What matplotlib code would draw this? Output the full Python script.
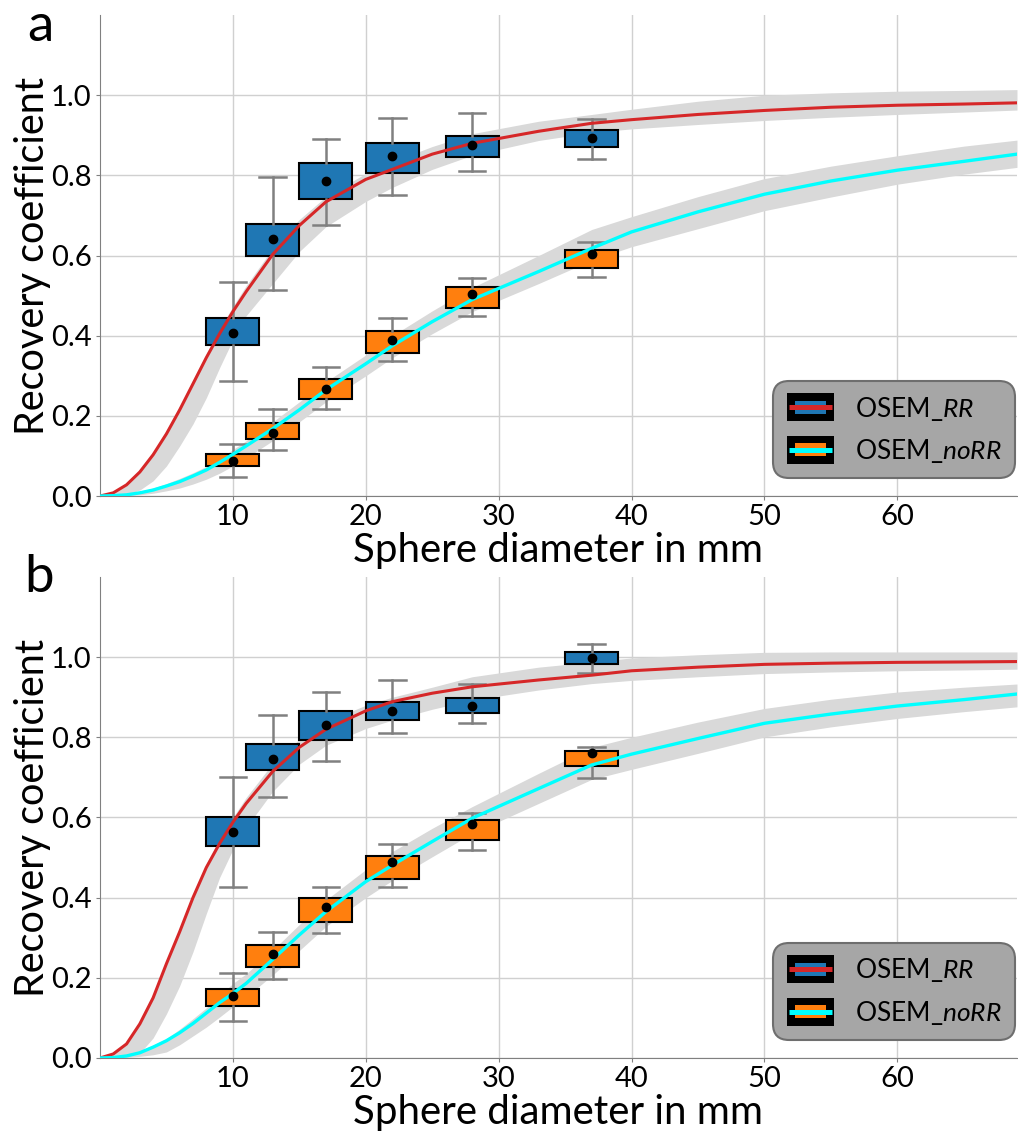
import numpy as np
import matplotlib
matplotlib.use("Agg")
import matplotlib.pyplot as plt
from matplotlib.patches import Rectangle
from matplotlib.lines import Line2D
from matplotlib.legend_handler import HandlerBase

plt.rcParams['font.family'] = ['Lato', 'DejaVu Sans']
plt.rcParams['mathtext.fontset'] = 'custom'
plt.rcParams['mathtext.rm'] = 'Lato'
plt.rcParams['mathtext.it'] = 'Lato:italic'

# sphere diameters of the phantom (mm)
positions = [10, 13, 17, 22, 28, 37]

# panel a, OSEM_RR boxes
a_rr_whislo = [0.287, 0.514, 0.677, 0.750, 0.810, 0.840]
a_rr_q1 = [0.378, 0.599, 0.742, 0.805, 0.847, 0.870]
a_rr_mean = [0.408, 0.641, 0.786, 0.848, 0.877, 0.893]
a_rr_q3 = [0.443, 0.678, 0.832, 0.882, 0.899, 0.913]
a_rr_whishi = [0.534, 0.796, 0.890, 0.943, 0.955, 0.940]

# panel a, OSEM_noRR boxes
a_no_whislo = [0.047, 0.116, 0.217, 0.337, 0.450, 0.547]
a_no_q1 = [0.076, 0.142, 0.242, 0.358, 0.470, 0.569]
a_no_mean = [0.087, 0.158, 0.266, 0.389, 0.505, 0.604]
a_no_q3 = [0.105, 0.183, 0.292, 0.411, 0.522, 0.613]
a_no_whishi = [0.131, 0.216, 0.321, 0.443, 0.545, 0.633]

# panel b, OSEM_RR boxes
b_rr_whislo = [0.427, 0.652, 0.741, 0.810, 0.835, 0.961]
b_rr_q1 = [0.530, 0.719, 0.793, 0.842, 0.860, 0.983]
b_rr_mean = [0.564, 0.746, 0.831, 0.865, 0.877, 0.997]
b_rr_q3 = [0.602, 0.783, 0.866, 0.887, 0.899, 1.012]
b_rr_whishi = [0.700, 0.856, 0.913, 0.944, 0.933, 1.034]

# panel b, OSEM_noRR boxes
b_no_whislo = [0.092, 0.196, 0.313, 0.426, 0.518, 0.699]
b_no_q1 = [0.129, 0.228, 0.338, 0.447, 0.544, 0.728]
b_no_mean = [0.154, 0.259, 0.377, 0.490, 0.584, 0.761]
b_no_q3 = [0.173, 0.282, 0.399, 0.505, 0.594, 0.767]
b_no_whishi = [0.212, 0.314, 0.427, 0.534, 0.611, 0.776]

# fitted recovery curves and their bands
d = [0, 1, 2, 3, 4, 5, 6, 7, 8, 9, 10, 11, 13, 15, 17, 20, 22, 25, 28, 33, 37, 40, 45, 50, 55, 60, 65, 69]

a_red = [0, .008, .028, .060, .103, .155, .215, .280, .345, .405, .460, .510, .603, .675, .734,
         .790, .815, .853, .880, .910, .930, .939, .952, .962, .970, .975, .978, .981]
a_red_lo = [0, .001, .004, .015, .038, .075, .125, .180, .245, .320, .390, .450, .530, .610, .672,
            .735, .770, .815, .850, .887, .907, .916, .927, .937, .945, .952, .958, .963]
a_red_hi = [0, .010, .032, .066, .110, .163, .225, .290, .356, .417, .473, .525, .618, .690, .747,
            .805, .834, .872, .904, .935, .952, .965, .985, 1.000, 1.006, 1.010, 1.012, 1.014]
a_cyan = [0, .001, .003, .008, .015, .025, .036, .050, .065, .084, .104, .125, .168, .215, .265,
          .330, .375, .435, .490, .560, .618, .659, .709, .753, .786, .813, .835, .853]
a_cyan_lo = [0, 0, .001, .003, .007, .013, .020, .030, .042, .057, .075, .095, .138, .185, .235,
             .300, .345, .405, .460, .530, .588, .622, .667, .712, .746, .778, .803, .820]
a_cyan_hi = [0, .002, .005, .011, .020, .031, .044, .058, .074, .094, .116, .138, .185, .235, .285,
             .352, .400, .462, .520, .600, .665, .697, .747, .792, .823, .849, .873, .888]

b_red = [0, .010, .035, .085, .150, .235, .315, .400, .475, .535, .588, .635, .715, .775, .820,
         .866, .889, .910, .926, .943, .955, .966, .975, .982, .985, .987, .988, .989]
b_red_lo = [0, 0, .003, .012, .050, .110, .180, .265, .360, .450, .520, .575, .665, .733, .780,
            .822, .843, .870, .893, .918, .934, .942, .951, .959, .963, .966, .968, .970]
b_red_hi = [0, .012, .040, .092, .158, .243, .325, .410, .485, .548, .600, .650, .735, .795, .839,
            .880, .900, .925, .951, .975, .988, .998, 1.006, 1.012, 1.013, 1.013, 1.013, 1.013]
b_cyan = [0, .001, .005, .013, .027, .043, .063, .086, .112, .138, .161, .186, .246, .307, .365,
          .440, .481, .540, .598, .672, .731, .758, .797, .835, .858, .878, .894, .908]
b_cyan_lo = [0, 0, .001, .004, .008, .015, .033, .055, .077, .102, .128, .152, .207, .268, .328,
             .400, .443, .502, .560, .635, .695, .720, .760, .801, .826, .847, .864, .876]
b_cyan_hi = [0, .002, .007, .018, .032, .048, .072, .098, .125, .155, .186, .210, .269, .333, .394,
             .470, .515, .573, .627, .710, .775, .800, .838, .872, .895, .913, .925, .933]

labels = ['OSEM_$\\mathit{RR}$', 'OSEM_$\\mathit{noRR}$']
BLUE = '#1f77b4'
ORANGE = '#ff7f0e'
RED = '#d62728'
CYAN = '#00ffff'
GRAY = '#808080'


class BoxLineHandler(HandlerBase):
    # black square with a coloured box and the fit line through it
    def __init__(self, box_color, line_color):
        super().__init__()
        self.box_color = box_color
        self.line_color = line_color

    def create_artists(self, legend, orig_handle, xdescent, ydescent, width, height, fontsize, trans):
        x0 = -xdescent
        yc = -ydescent + height / 2
        bg = Rectangle((x0, yc - 10), width, 20, facecolor='black', edgecolor='none', transform=trans)
        inner = Rectangle((x0 + 0.17 * width, yc - 4.7), 0.66 * width, 9.4,
                          facecolor=self.box_color, edgecolor='none', transform=trans)
        line = Line2D([x0 + 0.05 * width, x0 + 0.95 * width], [yc, yc], color=self.line_color,
                      lw=3.6, solid_capstyle='butt', transform=trans)
        return [bg, inner, line]


def boxes(ax, lo, q1, mean, q3, hi, color):
    stats = []
    for i in range(len(positions)):
        stats.append(dict(whislo=lo[i], q1=q1[i], med=mean[i], mean=mean[i], q3=q3[i],
                          whishi=hi[i], fliers=[]))
    res = ax.bxp(stats, positions=positions, widths=4, capwidths=2, patch_artist=True,
                 showmeans=True, manage_ticks=False, zorder=3,
                 boxprops=dict(facecolor=color, edgecolor='black', linewidth=1.5),
                 whiskerprops=dict(color=GRAY, linewidth=1.8),
                 capprops=dict(color=GRAY, linewidth=1.8),
                 medianprops=dict(linewidth=0),
                 meanprops=dict(marker='o', markerfacecolor='black', markeredgecolor='black',
                                markersize=6))
    for m in res['means']:
        m.set_zorder(5)


def panel(ax, rr, no, red, red_lo, red_hi, cyan, cyan_lo, cyan_hi):
    ax.fill_between(d, red_lo, red_hi, color='#d9d9d9', lw=0, zorder=2)
    ax.fill_between(d, cyan_lo, cyan_hi, color='#d9d9d9', lw=0, zorder=2)
    boxes(ax, *rr, BLUE)
    boxes(ax, *no, ORANGE)
    ax.plot(d, red, color=RED, lw=2.2, zorder=4)
    ax.plot(d, cyan, color=CYAN, lw=2.4, zorder=4)

    ax.set_xlim(0, 69)
    ax.set_ylim(0, 1.2)
    ax.set_xticks([10, 20, 30, 40, 50, 60])
    ax.set_yticks([0.0, 0.2, 0.4, 0.6, 0.8, 1.0])
    ax.set_yticklabels(['0.0', '0.2', '0.4', '0.6', '0.8', '1.0'])
    ax.grid(True, color='#d0d0d0', lw=1)
    ax.set_axisbelow(True)
    for s in ['top', 'right']:
        ax.spines[s].set_visible(False)
    for s in ['left', 'bottom']:
        ax.spines[s].set_color(GRAY)
    ax.tick_params(labelsize=21, length=3, color=GRAY, pad=3)
    ax.set_xlabel('Sphere diameter in mm', fontsize=29, labelpad=1)
    ax.set_ylabel('Recovery coefficient', fontsize=28.5, labelpad=0)

    h1 = Rectangle((0, 0), 1, 1)
    h2 = Rectangle((0, 0), 1, 1)
    leg = ax.legend([h1, h2], labels, loc='lower right', bbox_to_anchor=(0.998, 0.037),
                    borderaxespad=0, fontsize=19, handlelength=1.8, handletextpad=0.8,
                    labelspacing=0.55, borderpad=0.5, fancybox=True, framealpha=1,
                    facecolor='#a6a6a6', edgecolor='#6e6e6e',
                    handler_map={h1: BoxLineHandler(BLUE, RED), h2: BoxLineHandler(ORANGE, CYAN)})
    leg.get_frame().set_linewidth(1.5)
    leg.get_frame().set_boxstyle('round', pad=0, rounding_size=0.6)
    leg.set_zorder(10)


fig = plt.figure(figsize=(10.18, 11.32), dpi=100)
ax1 = fig.add_axes([0.0982, 0.5618, 0.9008, 0.4249])
ax2 = fig.add_axes([0.0982, 0.0654, 0.9008, 0.4249])

panel(ax1, (a_rr_whislo, a_rr_q1, a_rr_mean, a_rr_q3, a_rr_whishi),
      (a_no_whislo, a_no_q1, a_no_mean, a_no_q3, a_no_whishi),
      a_red, a_red_lo, a_red_hi, a_cyan, a_cyan_lo, a_cyan_hi)
panel(ax2, (b_rr_whislo, b_rr_q1, b_rr_mean, b_rr_q3, b_rr_whishi),
      (b_no_whislo, b_no_q1, b_no_mean, b_no_q3, b_no_whishi),
      b_red, b_red_lo, b_red_hi, b_cyan, b_cyan_lo, b_cyan_hi)

fig.text(0.04, 0.997, 'a', fontsize=38, ha='center', va='top')
fig.text(0.038, 0.511, 'b', fontsize=38, ha='center', va='top')

fig.savefig('out.png', dpi=100)
